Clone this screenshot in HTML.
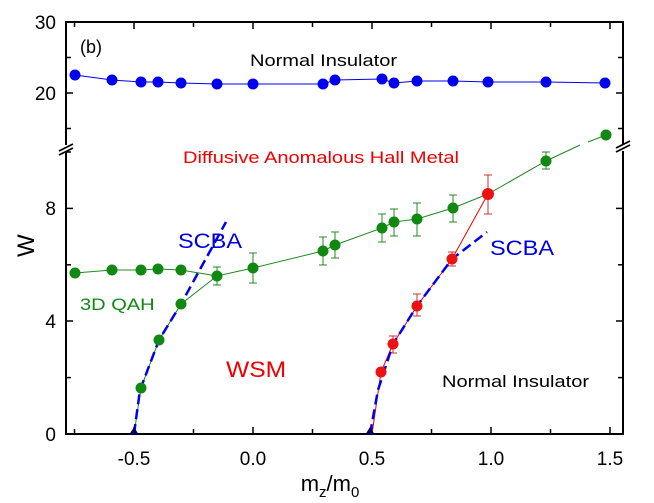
<!DOCTYPE html>
<html><head><style>body{margin:0;background:#fff}svg{display:block;font-family:"Liberation Sans",Arial,sans-serif}</style></head><body>
<svg width="654" height="503" viewBox="0 0 654 503">
<g stroke="#000" stroke-width="2" fill="none">
<path d="M66,145 V22 H623 V145"/>
<path d="M66,151 V434 H623 V151"/>
</g>
<g stroke="#000" stroke-width="1.8">
<line x1="59" y1="151" x2="73" y2="144"/><line x1="59" y1="155" x2="73" y2="148"/>
<line x1="616" y1="148" x2="630" y2="141"/><line x1="616" y1="152" x2="630" y2="145"/>
</g>
<g stroke="#000" stroke-width="1.5">
<line x1="66" y1="22" x2="73" y2="22"/><line x1="66" y1="57.5" x2="71" y2="57.5"/><line x1="66" y1="93" x2="73" y2="93"/><line x1="66" y1="128.5" x2="71" y2="128.5"/>
<line x1="623" y1="57.5" x2="618" y2="57.5"/><line x1="623" y1="93" x2="616" y2="93"/><line x1="623" y1="128.5" x2="618" y2="128.5"/>
<line x1="66" y1="377.6" x2="71" y2="377.6"/><line x1="66" y1="321" x2="73" y2="321"/><line x1="66" y1="264.8" x2="71" y2="264.8"/><line x1="66" y1="208.4" x2="73" y2="208.4"/><line x1="66" y1="152" x2="71" y2="152"/>
<line x1="623" y1="377.6" x2="618" y2="377.6"/><line x1="623" y1="321" x2="616" y2="321"/><line x1="623" y1="264.8" x2="618" y2="264.8"/><line x1="623" y1="208.4" x2="616" y2="208.4"/>
<line x1="134" y1="434" x2="134" y2="427"/><line x1="193.5" y1="434" x2="193.5" y2="429"/><line x1="253" y1="434" x2="253" y2="427"/><line x1="312.5" y1="434" x2="312.5" y2="429"/><line x1="372" y1="434" x2="372" y2="427"/><line x1="431.5" y1="434" x2="431.5" y2="429"/><line x1="491" y1="434" x2="491" y2="427"/><line x1="550.5" y1="434" x2="550.5" y2="429"/><line x1="610" y1="434" x2="610" y2="427"/><line x1="74.5" y1="434" x2="74.5" y2="429"/>
<line x1="134" y1="22" x2="134" y2="29"/><line x1="193.5" y1="22" x2="193.5" y2="27"/><line x1="253" y1="22" x2="253" y2="29"/><line x1="312.5" y1="22" x2="312.5" y2="27"/><line x1="372" y1="22" x2="372" y2="29"/><line x1="431.5" y1="22" x2="431.5" y2="27"/><line x1="491" y1="22" x2="491" y2="29"/><line x1="550.5" y1="22" x2="550.5" y2="27"/><line x1="610" y1="22" x2="610" y2="29"/><line x1="74.5" y1="22" x2="74.5" y2="27"/>
</g>
<g font-size="19" fill="#000" text-anchor="end">
<text x="56" y="29">30</text><text x="56" y="100">20</text>
<text x="56" y="215">8</text><text x="56" y="328">4</text><text x="56" y="441">0</text>
</g>
<g font-size="19" fill="#000" text-anchor="middle">
<text x="134" y="465">-0.5</text><text x="253" y="465">0.0</text><text x="372" y="465">0.5</text><text x="491" y="465">1.0</text><text x="610" y="465">1.5</text>
<text x="330" y="491" font-size="22">m<tspan font-size="15" dy="6">z</tspan><tspan dy="-6">/m</tspan><tspan font-size="15" dy="6">0</tspan></text>
</g>
<text x="34" y="243" font-size="24" transform="rotate(-90 34 243) translate(-14 0)">W</text>
<text x="80" y="53" font-size="18">(b)</text>
<text transform="translate(250 66) scale(1.18 1)" font-size="17">Normal Insulator</text>
<text transform="translate(183 163) scale(1.18 1)" font-size="17" fill="#e00">Diffusive Anomalous Hall Metal</text>
<text transform="translate(178 248) scale(1.12 1)" font-size="21" fill="#0000dd">SCBA</text>
<text transform="translate(490 255) scale(1.12 1)" font-size="21" fill="#0000dd">SCBA</text>
<text transform="translate(80 310) scale(1.18 1)" font-size="17" fill="#118811">3D QAH</text>
<text transform="translate(226 377) scale(1.12 1)" font-size="22" fill="#e00">WSM</text>
<text transform="translate(442 387) scale(1.18 1)" font-size="17">Normal Insulator</text>
<g stroke="#228822" stroke-width="1">
<path d="M217,267V285M213,267h8M213,285h8"/>
<path d="M253,253V283M249,253h8M249,283h8"/>
<path d="M323,237V265M319,237h8M319,265h8"/>
<path d="M335,232V258M331,232h8M331,258h8"/>
<path d="M382,214V242M378,214h8M378,242h8"/>
<path d="M394,209V236M390,209h8M390,236h8"/>
<path d="M417,203V236M413,203h8M413,236h8"/>
<path d="M453,195V222M449,195h8M449,222h8"/>
<path d="M546,152V169M542,152h8M542,169h8"/>
</g>
<g stroke="#cc3333" stroke-width="1">
<path d="M488,175V214M484,175h8M484,214h8"/>
<path d="M452,252V266M448,252h8M448,266h8"/>
<path d="M417,294V316M413,294h8M413,316h8"/>
<path d="M393,336V353M389,336h8M389,353h8"/>
</g>
<polyline fill="none" stroke="#0000ee" stroke-width="1" points="75,75 112,80 141,82 158,82 181,83 217,84 253,84 323,84 335,80 382,79 394,83 417,81 453,81 488,82 546,82 605,83"/>
<polyline fill="none" stroke="#228822" stroke-width="1" points="75,273 112,270 141,270 158,269 181,270 217,276 253,268 323,251 335,245 382,228 394,222 417,219 453,208 488,194 546,161 580,145"/>
<polyline fill="none" stroke="#228822" stroke-width="1" points="134,434 141,388 159,340 181,304 217,276"/>
<line x1="588" y1="142" x2="606" y2="135" stroke="#228822" stroke-width="1"/>
<polyline fill="none" stroke="#ee0000" stroke-width="1" points="372,434 381,372 393,344 417,306 452,259 488,194"/>
<polyline fill="none" stroke="#0000ee" stroke-width="2.5" stroke-dasharray="10,5" points="134,434 140,390 159,340 181,304 226,222"/>
<polyline fill="none" stroke="#0000ee" stroke-width="2.5" stroke-dasharray="10,5" points="370,434 378,390 393,344 417,306 452,259 487,232"/>
<g fill="#0000ee">
<circle cx="75" cy="75" r="5.5"/><circle cx="112" cy="80" r="5.5"/><circle cx="141" cy="82" r="5.5"/><circle cx="158" cy="82" r="5.5"/><circle cx="181" cy="83" r="5.5"/><circle cx="217" cy="84" r="5.5"/><circle cx="253" cy="84" r="5.5"/><circle cx="323" cy="84" r="5.5"/><circle cx="335" cy="80" r="5.5"/><circle cx="382" cy="79" r="5.5"/><circle cx="394" cy="83" r="5.5"/><circle cx="417" cy="81" r="5.5"/><circle cx="453" cy="81" r="5.5"/><circle cx="488" cy="82" r="5.5"/><circle cx="546" cy="82" r="5.5"/><circle cx="605" cy="83" r="5.5"/>
</g>
<g fill="#118811">
<circle cx="75" cy="273" r="5.5"/><circle cx="112" cy="270" r="5.5"/><circle cx="141" cy="270" r="5.5"/><circle cx="158" cy="269" r="5.5"/><circle cx="181" cy="270" r="5.5"/><circle cx="217" cy="276" r="5.5"/><circle cx="253" cy="268" r="5.5"/><circle cx="323" cy="251" r="5.5"/><circle cx="335" cy="245" r="5.5"/><circle cx="382" cy="228" r="5.5"/><circle cx="394" cy="222" r="5.5"/><circle cx="417" cy="219" r="5.5"/><circle cx="453" cy="208" r="5.5"/><circle cx="546" cy="161" r="5.5"/><circle cx="606" cy="135" r="5.5"/>
<circle cx="141" cy="388" r="5.5"/><circle cx="159" cy="340" r="5.5"/><circle cx="181" cy="304" r="5.5"/>
</g>
<g fill="#ee1111">
<circle cx="381" cy="372" r="5.5"/><circle cx="393" cy="344" r="5.5"/><circle cx="417" cy="306" r="5.5"/><circle cx="452" cy="259" r="5.5"/><circle cx="488" cy="194" r="6"/>
</g>
<g fill="#000055">
<path d="M134,427 L139,435 H129Z"/><path d="M370,427 L375,435 H365Z"/>
</g>
</svg>
</body></html>
